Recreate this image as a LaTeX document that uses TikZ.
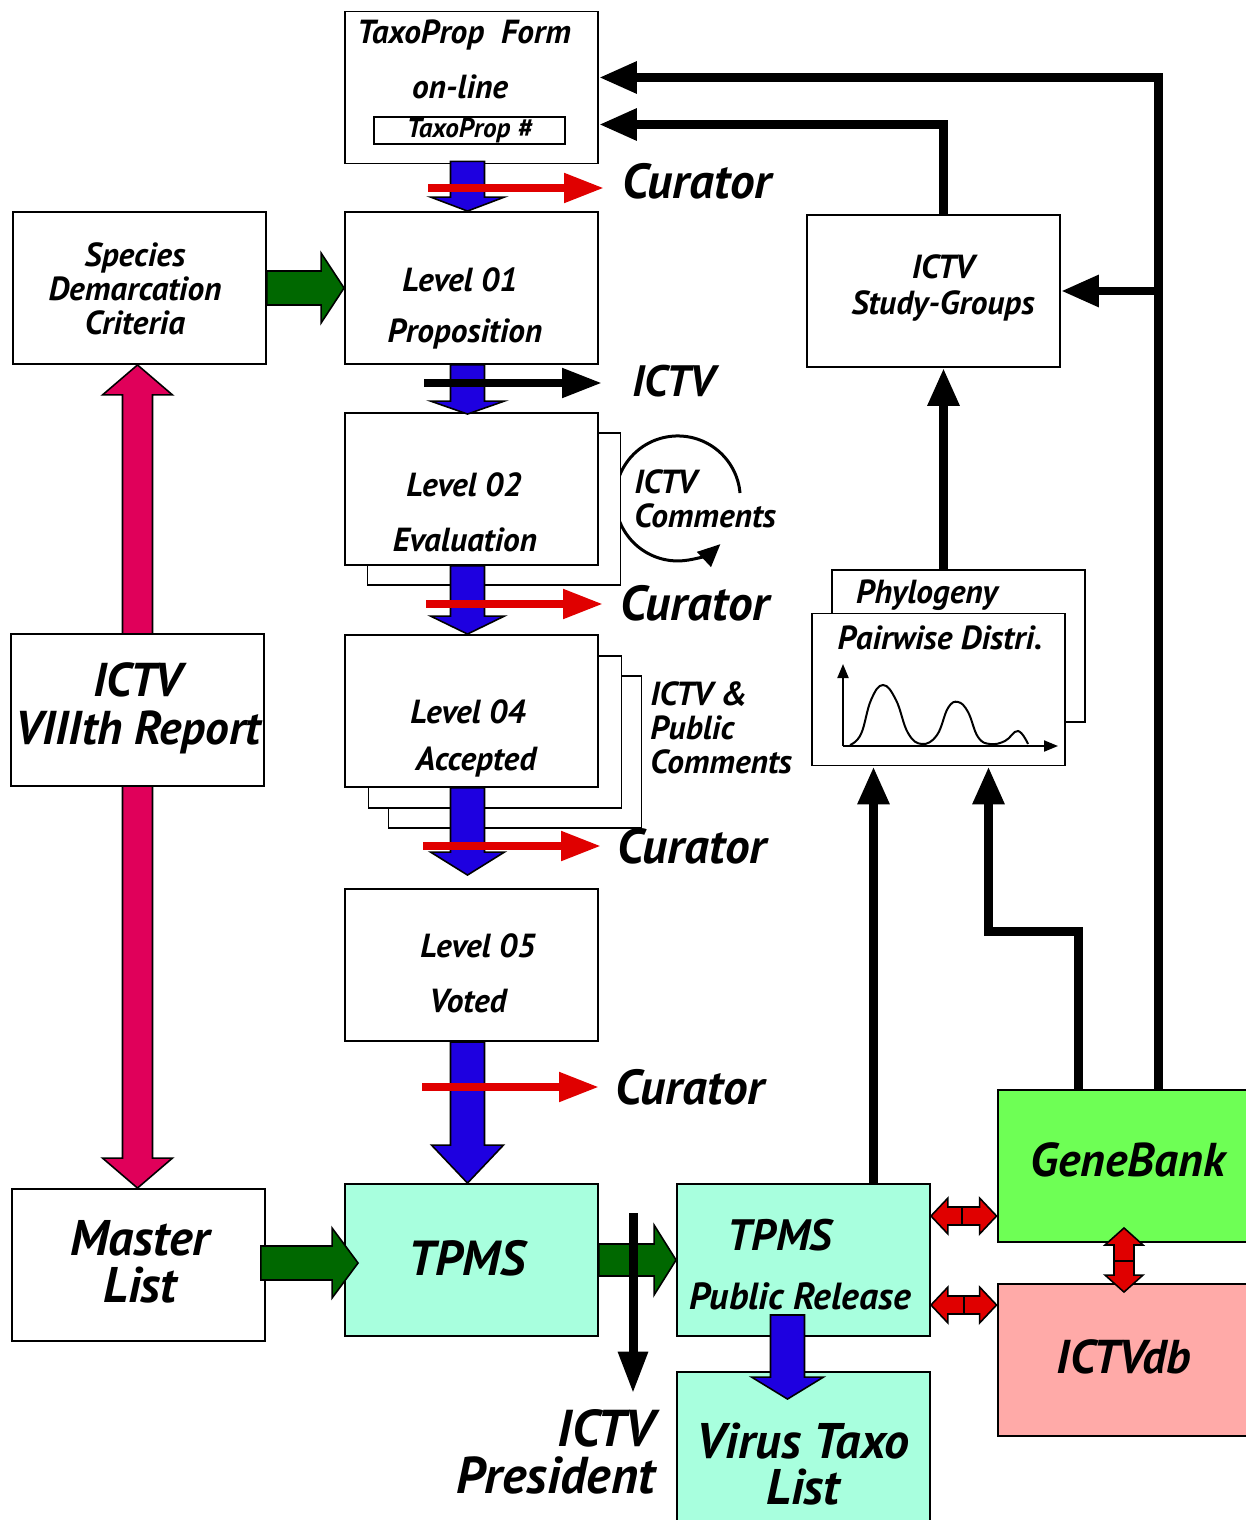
\documentclass[tikz,border=0pt]{standalone}
\usepackage{fontspec}
\setmainfont{PT Sans}
\usetikzlibrary{arrows.meta,calc,positioning}

\definecolor{flowblue}{RGB}{30,0,224}
\definecolor{curred}{RGB}{224,0,0}
\definecolor{leafgreen}{RGB}{0,104,0}
\definecolor{crimson}{RGB}{224,0,90}
\definecolor{aqua}{RGB}{168,255,222}
\definecolor{genegreen}{RGB}{110,255,85}
\definecolor{dbpink}{RGB}{255,170,168}

% block arrows built from the start and end points of a `to'
\tikzset{
  bshaft/.store in=\bshaft, bhead/.store in=\bhead,
  btip/.store in=\btip, bdir/.store in=\bdir,
  bshaft=17, bhead=37, btip=14, bdir=1,
  vblock/.style={draw=black, line width=0.9pt, to path={
      ($(\tikztostart)+(-\bshaft,0)$) -- ($(\tikztotarget)+(-\bshaft,{\bdir*(-\btip)})$)
      -- ($(\tikztotarget)+(-\bhead,{\bdir*(-\btip)})$) -- (\tikztotarget)
      -- ($(\tikztotarget)+(\bhead,{\bdir*(-\btip)})$) -- ($(\tikztotarget)+(\bshaft,{\bdir*(-\btip)})$)
      -- ($(\tikztostart)+(\bshaft,0)$) -- cycle}},
  hblock/.style={draw=black, line width=0.9pt, to path={
      ($(\tikztostart)+(0,-\bshaft)$) -- ($(\tikztotarget)+({\bdir*(-\btip)},-\bshaft)$)
      -- ($(\tikztotarget)+({\bdir*(-\btip)},-\bhead)$) -- (\tikztotarget)
      -- ($(\tikztotarget)+({\bdir*(-\btip)},\bhead)$) -- ($(\tikztotarget)+({\bdir*(-\btip)},\bshaft)$)
      -- ($(\tikztostart)+(0,\bshaft)$) -- cycle}},
  vdouble/.style={draw=black, line width=0.9pt, to path={
      (\tikztostart) -- ($(\tikztostart)+(\bhead,\btip)$) -- ($(\tikztostart)+(\bshaft,\btip)$)
      -- ($(\tikztotarget)+(\bshaft,-\btip)$) -- ($(\tikztotarget)+(\bhead,-\btip)$) -- (\tikztotarget)
      -- ($(\tikztotarget)+(-\bhead,-\btip)$) -- ($(\tikztotarget)+(-\bshaft,-\btip)$)
      -- ($(\tikztostart)+(-\bshaft,\btip)$) -- ($(\tikztostart)+(-\bhead,\btip)$) -- cycle}},
}

\begin{document}
\begin{tikzpicture}[x=0.02cm, y=-0.02cm,
    box/.style={draw, line width=1.1pt, fill=white, minimum width=5.06cm, minimum height=3.04cm, inner sep=0pt},
    txt/.style={font=\bfseries\itshape\fontsize{19}{19.5}\selectfont, inner sep=0pt, align=center},
    small/.style={font=\bfseries\itshape\fontsize{15.5}{17}\selectfont, inner sep=0pt},
    big/.style={font=\bfseries\itshape\fontsize{28}{29}\selectfont, inner sep=0pt, align=center},
    huge/.style={font=\bfseries\itshape\fontsize{28}{27}\selectfont, inner sep=0pt, align=center},
    link/.style={line width=0.18cm, -{Triangle[length=0.76cm, width=0.6cm]}},
    tag/.style={line width=0.16cm, -{Triangle[length=0.8cm, width=0.56cm]}},
    thin/.style={line width=0.04cm, -{Triangle[length=0.28cm, width=0.22cm]}}
]
\clip (0,0) rectangle (1246,1520);
\fill[white] (0,0) rectangle (1246,1520);

% left column: criteria, report, master list
\node[box] (spec) at (139.5,288) {};
\node[box] (master) at (138.5,1265) {};
\draw[vdouble, fill=crimson, bshaft=15, bhead=35, btip=30]
  ($(spec.south)+(-2,0)$) to ($(master.north)+(-1,0)$);
\node[box] (rep) at (137.5,710) {};
\node[txt] (spec-t) at (135,289) {Species\\Demarcation\\Criteria};
\node[big, font=\bfseries\itshape\fontsize{27}{27.5}\selectfont] (rep-t) at (138,708) {ICTV\\VIIIth Report};
\node[huge, font=\bfseries\itshape\fontsize{28.5}{27}\selectfont] (master-t) at (140,1262) {Master\\List};

% comment loop behind level 02
\coordinate (loopstart) at (740,493);
\draw[line width=0.06cm, -{Triangle[length=0.45cm, width=0.4cm]}]
  (loopstart) arc[start angle=5, end angle=313, radius=1.25cm];

% proposal levels
\node[box] (tax) at (471.5,87.5) {};
\node[box] (lvl1) at (471.5,288) {};
\node[box] (lvl2b) at (494,509) {};
\node[box] (lvl2) at (471.5,489) {};
\node[box] (lvl4c) at (515,752) {};
\node[box] (lvl4b) at (495,732) {};
\node[box] (lvl4) at (471.5,711) {};
\node[box] (lvl5) at (471.5,965) {};
\node[box, fill=aqua] (tpms) at (471.5,1260) {};

\node[txt] (tax-t) at (464,35) {TaxoProp~~Form};
\node[txt] (tax-t2) at (460,87) {on-line};
\node[draw, line width=1.1pt, minimum width=3.82cm, minimum height=0.54cm, small] (taxnum) at (469.5,130.5) {TaxoProp \#};
\node[txt] (lvl1-a) at (460,280) {Level 01};
\node[txt] (lvl1-b) at (465,334) {Proposition};
\node[txt] (lvl2-a) at (464,485) {Level 02};
\node[txt] (lvl2-b) at (465,540) {Evaluation};
\node[txt] (lvl4-a) at (468,712) {Level 04};
\node[txt] (lvl4-b) at (476,762) {Accepted};
\node[txt] (lvl5-a) at (478,946) {Level 05};
\node[txt] (lvl5-b) at (468,1001) {Voted};
\node[huge] (tpms-t) at (467,1258) {TPMS};

% flow down the levels
\draw[vblock, fill=flowblue] ($(tax.south)+(-4,-3)$) to ($(lvl1.north)+(-4,0)$);
\draw[vblock, fill=flowblue, btip=13] ($(lvl1.south)+(-4,0)$) to ($(lvl2.north)+(-4,2)$);
\draw[vblock, fill=flowblue, btip=18] ($(lvl2.south)+(-4,0)$) to ($(lvl4.north)+(-4,0)$);
\draw[vblock, fill=flowblue, btip=23] ($(lvl4.south)+(-4,0)$) to ($(lvl5.north)+(-4,-13)$);
\draw[vblock, fill=flowblue, bhead=36, btip=38] ($(lvl5.south)+(-4,0)$) to ($(tpms.north)+(-4,0)$);

\draw[hblock, fill=leafgreen, bshaft=17, bhead=35, btip=23] (spec.east) to (lvl1.west);
\draw[hblock, fill=leafgreen, bshaft=17, bhead=35, btip=26] ($(master.east)+(-5,-2)$) to ($(tpms.west)+(14,3)$);

% curator / ICTV steps
\node[big, anchor=west] (cur1) at (622,181) {Curator};
\node[big, anchor=west, font=\bfseries\itshape\fontsize{25}{27}\selectfont] (ictv1) at (632,381) {ICTV};
\node[big, anchor=west] (cur2) at (620,603) {Curator};
\node[big, anchor=west] (cur3) at (617,846) {Curator};
\node[big, anchor=west] (cur4) at (615,1087) {Curator};
\coordinate (s1) at (428,188);
\coordinate (s2) at (424,383);
\coordinate (s3) at (426,604);
\coordinate (s4) at (423,846);
\coordinate (s5) at (422,1087);
\draw[tag, curred] (s1) -- (s1 -| 604,0);
\draw[tag, black] (s2) -- (s2 -| 602,0);
\draw[tag, curred] (s3) -- (s3 -| 603,0);
\draw[tag, curred] (s4) -- (s4 -| 601,0);
\draw[tag, curred] (s5) -- (s5 -| 599,0);

\node[txt, align=left, anchor=west] (cmt) at (634,499) {ICTV\\Comments};
\node[txt, align=left, anchor=west] (pcmt) at (650,728) {ICTV \&\\Public\\Comments};

% right side
\node[box] (sg) at (933.5,291) {};
\node[txt, font=\bfseries\itshape\fontsize{19}{20}\selectfont] (sg-t) at (943,288) {ICTV\\Study-Groups};
\node[box] (phy) at (958.5,646) {};
\node[box] (pair) at (938.5,689.5) {};
\node[txt] (phy-t) at (927,595) {Phylogeny};
\node[txt] (pair-t) at (940,638) {Pairwise Distri.};

\node[box, fill=aqua] (pub) at (803.5,1260) {};
\node[box, fill=aqua] (virus) at (803.5,1448) {};
\node[box, fill=genegreen] (gene) at (1124,1166) {};
\node[box, fill=dbpink] (db) at (1124,1360) {};
\node[huge, font=\bfseries\itshape\fontsize{25}{26}\selectfont] (pub-t) at (780,1235) {TPMS};
\node[txt, font=\bfseries\itshape\fontsize{21.5}{22}\selectfont] (pub-t2) at (800,1296) {Public Release};
\node[huge, font=\bfseries\itshape\fontsize{28.5}{26.5}\selectfont] (virus-t) at (803,1464) {Virus Taxo\\List};
\node[huge, font=\bfseries\itshape\fontsize{27}{27}\selectfont] (gene-t) at (1128,1160) {GeneBank};
\node[huge, font=\bfseries\itshape\fontsize{27}{27}\selectfont] (db-t) at (1124,1357) {ICTVdb};

\draw[hblock, fill=leafgreen, bshaft=16, bhead=35, btip=22] (tpms.east) to (pub.west);
\draw[vblock, fill=flowblue, bshaft=17, bhead=36, btip=22] ($(pub.south)+(-16,-22)$) to ($(virus.north)+(-16,28)$);

% president
\node[huge, align=right, anchor=east, font=\bfseries\itshape\fontsize{29.5}{26.5}\selectfont] (pres) at (655,1452) {ICTV\\President};
\coordinate (prestop) at (633,1213);
\draw[line width=0.18cm, -{Triangle[length=0.84cm, width=0.56cm]}] (prestop) -- ($(prestop |- pres.north)+(0,-16)$);

% database links
\coordinate (gtop) at ($(gene.north)+(34,0)$);
\coordinate (gmid) at ($(gene.north)+(-46,0)$);
\coordinate (pubup) at ($(pub.north)+(70,0)$);
\draw[link] (gtop) |- ($(tax.east)+(0,-10)$);
\draw[link] (sg.east -| gtop) -- (sg.east);
\draw[link] ($(sg.north)+(10,0)$) |- ($(tax.east)+(0,37)$);
\draw[link] ($(phy.north -| sg.south)+(10,0)$) -- ($(sg.south)+(10,0)$);
\draw[link] (pubup) -- (pubup |- pair.south);
\draw[link] (gmid) -- ++(0,-158) -| ($(pair.south)+(50,0)$);

% pairwise distance sketch
\coordinate (orig) at (843,746);
\draw[thin] (orig) -- (843,664);
\draw[thin] (orig) -- (1058,746);
\draw[line width=0.04cm] plot[smooth, tension=0.7] coordinates {(850,745) (861,734) (871,700) (883,685) (896,700) (908,733) (922,744) (937,735) (948,708) (958,702) (968,712) (978,737) (990,744) (1005,741) (1018,731) (1028,744)};

% exchange arrows
\coordinate (gm) at (962,1216);
\coordinate (dm) at (964,1305);
\coordinate (vm) at (1124,1261);
\draw[hblock, fill=curred, bshaft=9, bhead=18, btip=17] (gm) to (gm -| gene.west);
\draw[hblock, fill=curred, bshaft=9, bhead=18, btip=17, bdir=-1] (gm) to (gm -| pub.east);
\draw[hblock, fill=curred, bshaft=9, bhead=18, btip=17] (dm) to (dm -| db.west);
\draw[hblock, fill=curred, bshaft=9, bhead=18, btip=17, bdir=-1] (dm) to (dm -| pub.east);
\draw[vblock, fill=curred, bshaft=10, bhead=19, btip=17, bdir=-1] (vm) to ($(vm |- gene.south)+(0,-15)$);
\draw[vblock, fill=curred, bshaft=10, bhead=19, btip=17] (vm) to ($(vm |- db.north)+(0,9)$);
\end{tikzpicture}
\end{document}
